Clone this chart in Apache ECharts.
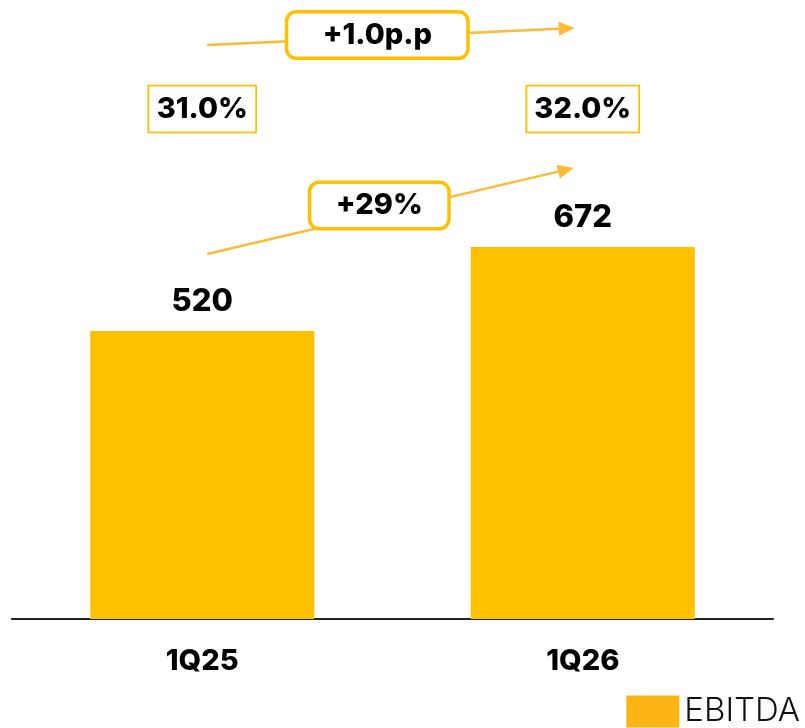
<!DOCTYPE html>
<html>
<head>
<meta charset="utf-8">
<script src="https://cdn.jsdelivr.net/npm/echarts@6/dist/echarts.min.js"></script>
<style>
  html, body { margin: 0; padding: 0; background: #fff; }
  #chart { width: 805px; height: 728px; }
</style>
</head>
<body>
<div id="chart"></div>
<script>
// Quarterly EBITDA and EBITDA margin
const quarters = ['1Q25', '1Q26'];
const ebitda = [520, 672];
const margins = [31.0, 32.0];

const FONT = 'Inter, "Open Sans", sans-serif';
const BAR = '#FFC000';
const ACCENT = '#FDBA36';
const HEAVY = 800;

const chart = echarts.init(document.getElementById('chart'), null, { renderer: 'canvas' });

chart.setOption({
  animation: false,
  backgroundColor: '#fff',
  grid: { left: 12, right: 32, top: 65.3, bottom: 109, containLabel: false },
  legend: {
    right: 5, bottom: 0, padding: 0,
    itemWidth: 53, itemHeight: 32, itemGap: 10,
    icon: 'rect',
    data: [{ name: 'EBITDA', itemStyle: { color: '#FDB515' } }],
    textStyle: { fontFamily: FONT, fontSize: 33, fontWeight: 300, color: '#111', padding: [4, 0, 0, 0] }
  },
  xAxis: {
    type: 'category',
    data: quarters,
    axisLine: { lineStyle: { color: '#222', width: 2 } },
    axisTick: { show: false },
    axisLabel: { margin: 28, fontFamily: FONT, fontSize: 29, fontWeight: HEAVY, color: '#000' }
  },
  yAxis: { type: 'value', min: 0, max: 1000, show: false, splitLine: { show: false } },
  series: [{
    name: 'EBITDA',
    type: 'bar',
    data: ebitda,
    barWidth: 224,
    itemStyle: { color: BAR },
    label: {
      show: true, position: 'top', distance: 14,
      fontFamily: FONT, fontSize: 31, fontWeight: HEAVY, color: '#000'
    }
  }]
});

// Annotations placed relative to the bar centres
function arrow(x1, y1, x2, y2) {
  const ang = Math.atan2(y2 - y1, x2 - x1);
  const len = 16, half = 7;
  const bx = x2 - len * Math.cos(ang), by = y2 - len * Math.sin(ang);
  const px = -Math.sin(ang) * half, py = Math.cos(ang) * half;
  return [
    { type: 'line', z: 1, shape: { x1, y1, x2: bx, y2: by }, style: { stroke: ACCENT, lineWidth: 2.5 } },
    { type: 'polygon', z: 1, shape: { points: [[x2, y2], [bx + px, by + py], [bx - px, by - py]] }, style: { fill: ACCENT } }
  ];
}
function box(cx, cy, text, opt) {
  return {
    type: 'text', z: 5, x: cx, y: cy,
    style: Object.assign({
      text, align: 'center', verticalAlign: 'middle',
      fontFamily: FONT, fontWeight: HEAVY, fill: '#000',
      backgroundColor: '#fff', borderColor: BAR
    }, opt)
  };
}

const c1 = chart.convertToPixel({ xAxisIndex: 0 }, quarters[0]);
const c2 = chart.convertToPixel({ xAxisIndex: 0 }, quarters[1]);
const mid = c1 + 0.46 * (c2 - c1);

const growth = Math.round((ebitda[1] / ebitda[0] - 1) * 100);
const ppDiff = (margins[1] - margins[0]).toFixed(1);

const els = [].concat(
  arrow(c1 + 5, 45, c2 - 8, 28),
  arrow(c1 + 5, 254, c2 - 9, 168),
  [
    box(mid, 35, '+' + ppDiff + 'p.p', { fontSize: 29, borderWidth: 3.5, borderRadius: 8, padding: [7, 28, 7, 28], width: 122 }),
    box(mid + 2, 205.5, '+' + growth + '%', { fontSize: 29, borderWidth: 3.5, borderRadius: 8, padding: [7, 24, 7, 24], width: 88 }),
    box(c1, 109, margins[0].toFixed(1) + '%', { fontSize: 29, borderWidth: 1.8, padding: [8, 7, 8, 7], width: 92 }),
    box(c2, 109, margins[1].toFixed(1) + '%', { fontSize: 29, borderWidth: 1.8, padding: [8, 7, 8, 7], width: 97 })
  ]
);
chart.setOption({ graphic: { elements: els } });
</script>
</body>
</html>
